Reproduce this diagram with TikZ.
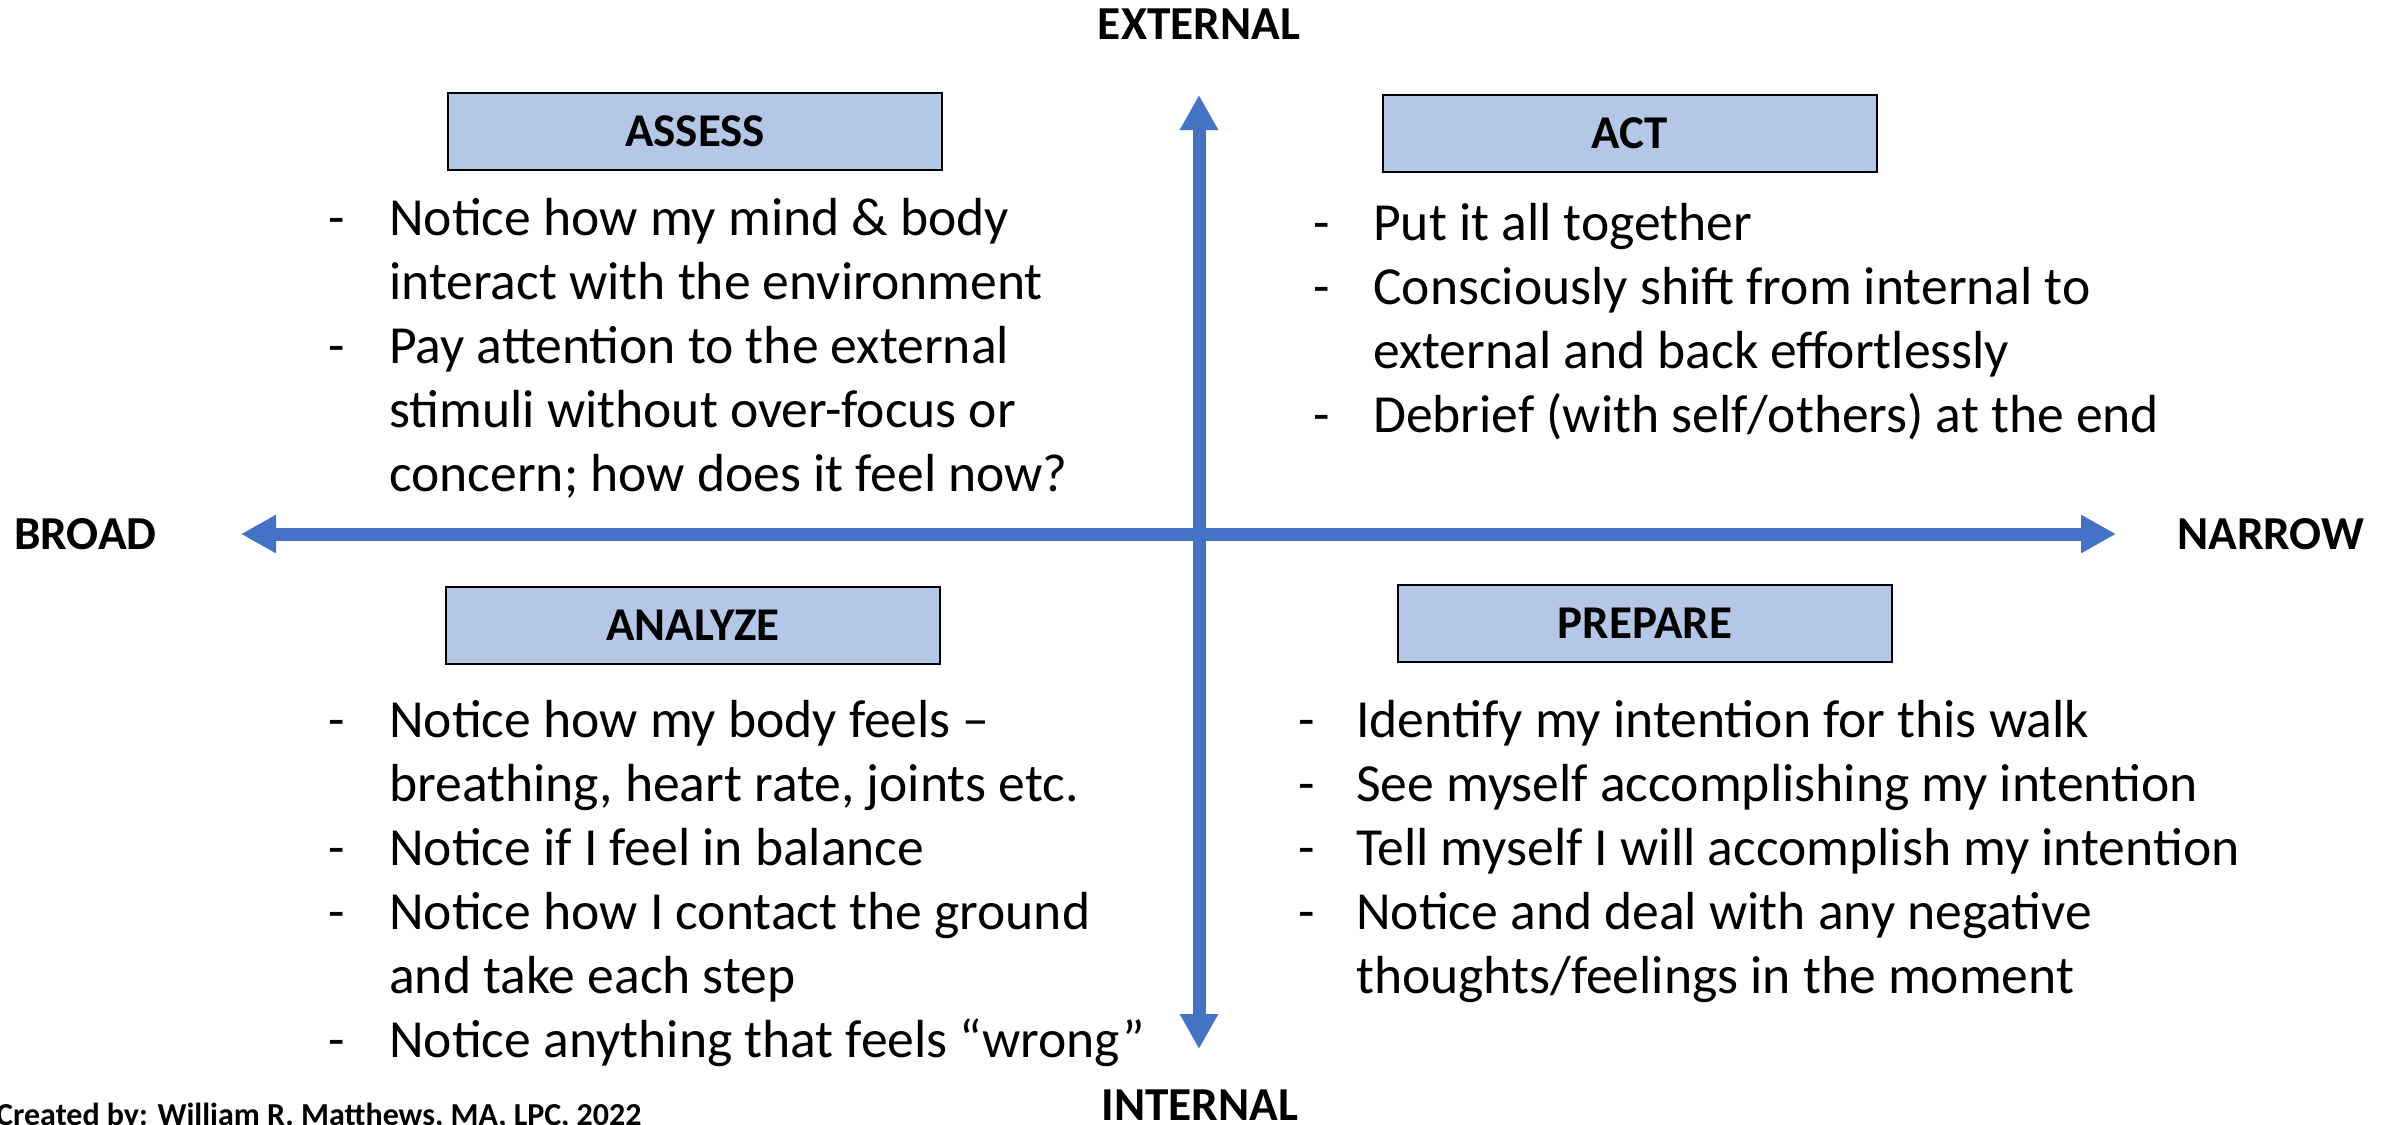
\documentclass[tikz,border=0pt]{standalone}
\usepackage{fontspec}
\setmainfont{Carlito}
\usetikzlibrary{arrows.meta}

\definecolor{axisblue}{HTML}{4472C4}
\definecolor{boxblue}{HTML}{B4C7E7}

\newcommand{\bodyfont}{\fontsize{53.6}{64}\selectfont}
\newcommand{\titlefont}{\fontsize{47}{56}\selectfont\bfseries}
\newcommand{\axisfont}{\fontsize{47.3}{56}\selectfont\bfseries}
\newcommand{\creditfont}{\fontsize{32}{38}\selectfont\bfseries}

% one bulleted entry: dash, then text with a hanging indent
\newlength{\dashgap}
\newcommand{\entry}[1]{\par\noindent\hangindent=\dashgap\hangafter=1\makebox[\dashgap][l]{-}#1}
\newcommand{\entrylist}[2]{\setlength{\dashgap}{#1}\parbox[t]{1100pt}{\raggedright #2}}

\tikzset{
  axisline/.style={line width=13pt, draw=axisblue,
    {Triangle[width=36pt,length=35pt]}-{Triangle[width=36pt,length=35pt]}},
  stagebox/.style={draw=black, line width=2pt, fill=boxblue,
    minimum width=494pt, minimum height=77pt, inner sep=0pt, font=\titlefont},
  axislabel/.style={font=\axisfont, inner sep=0pt},
  bulletlist/.style={inner sep=0pt, anchor=base west, font=\bodyfont},
}

\begin{document}
\begin{tikzpicture}[x=1pt, y=-1pt]
\useasboundingbox (0,0) rectangle (2392,1124);

% axis end points
\coordinate (axtop) at (1199,95);
\coordinate (axbottom) at (1199,1049);
\coordinate (axleft) at (241,534);
\coordinate (axright) at (2116,534);

\draw[axisline] (axleft) -- (axright);
\draw[axisline] (axbottom) -- (axtop);

% axis labels
\node[axislabel, anchor=base] (external) at (1199,40) {EXTERNAL};
\node[axislabel, anchor=base] (internal) at (1200,1120) {INTERNAL};
\node[axislabel, anchor=base west] (broad) at (14,549) {BROAD};
\node[axislabel, anchor=base west] (narrow) at (2177,549) {NARROW};

% quadrant headings
\node[stagebox] (assess) at (695,131.5) {ASSESS};
\node[stagebox] (act) at (1629.5,133) {ACT};
\node[stagebox] (analyze) at (693,625) {ANALYZE};
\node[stagebox] (prepare) at (1645,623.5) {PREPARE};

% quadrant contents
\node[bulletlist] (assesslist) at (328,235) {\entrylist{61pt}{%
  \entry{Notice how my mind \& body\newline interact with the environment}
  \entry{Pay attention to the external\newline stimuli without over-focus or\newline concern; how does it feel now?}}};

\node[bulletlist] (actlist) at (1313,240) {\entrylist{60pt}{%
  \entry{Put it all together}
  \entry{Consciously shift from internal to\newline external and back effortlessly}
  \entry{Debrief (with self/others) at the end}}};

\node[bulletlist] (analyzelist) at (328,737) {\entrylist{61pt}{%
  \entry{Notice how my body feels –\newline breathing, heart rate, joints etc.}
  \entry{Notice if I feel in balance}
  \entry{Notice how I contact the ground\newline and take each step}
  \entry{Notice anything that feels “wrong”}}};

\node[bulletlist] (preparelist) at (1298,737) {\entrylist{58pt}{%
  \entry{Identify my intention for this walk}
  \entry{See myself accomplishing my intention}
  \entry{Tell myself I will accomplish my intention}
  \entry{Notice and deal with any negative\newline thoughts/feelings in the moment}}};

% author line
\node[font=\creditfont, anchor=base west, inner sep=0pt] (credit) at (-4,1125)
  {Created by: William R. Matthews, MA, LPC, 2022};
\end{tikzpicture}
\end{document}
